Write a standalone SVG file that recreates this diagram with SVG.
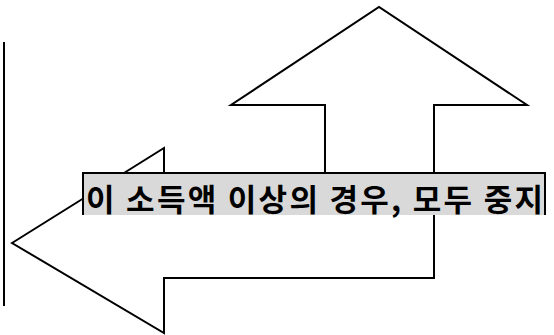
<svg xmlns="http://www.w3.org/2000/svg" width="554" height="335" viewBox="0 0 554 335">
<style>
.ln{fill:none;stroke:#000;stroke-width:2}
.shape{fill:#fff;stroke:#000;stroke-width:2;stroke-linejoin:miter}
.lbl{font-family:"Noto Sans CJK KR","Noto Sans",sans-serif;font-weight:bold;font-size:31px;fill:#000}
</style>
<rect width="554" height="335" fill="#fff"/>
<g id="left-bar">
<line class="ln" x1="4" y1="42" x2="4" y2="306"/>
</g>
<g id="bent-arrow">
<path class="shape" d="M12,243 L164,148 L164,207 L325,207 L325,105 L231,105 L379,7 L527,105 L434,105 L434,278 L164,278 L164,333 Z"/>
</g>
<g id="label">
<rect x="83" y="173" width="462" height="42" fill="#d9d9d9"/>
<path class="ln" d="M83,215 L83,173 L545,173 L545,215"/>
<text class="lbl" x="86" y="211" textLength="457" lengthAdjust="spacing">이 소득액 이상의 경우, 모두 중지</text>
</g>
</svg>
